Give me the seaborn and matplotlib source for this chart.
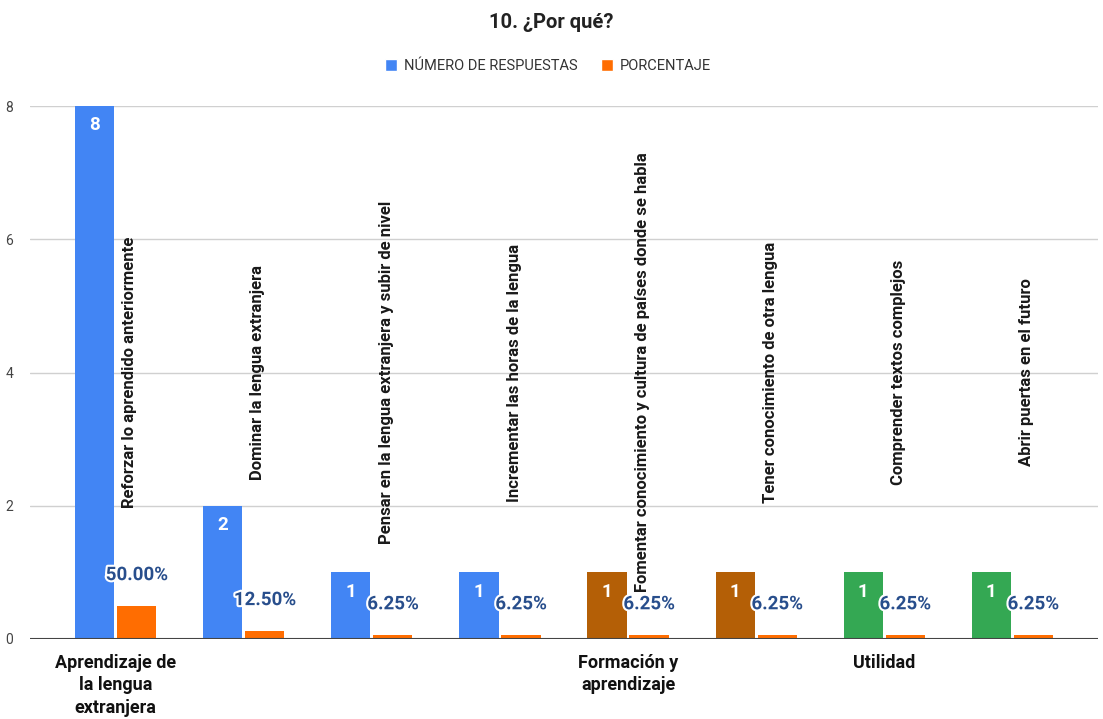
import matplotlib
matplotlib.use("Agg")
import matplotlib.pyplot as plt
import matplotlib.patheffects as pe
from matplotlib.patches import Patch
import seaborn as sns
import pandas as pd

# ---- data ----
reasons = [
    "Reforzar lo aprendido anteriormente",
    "Dominar la lengua extranjera",
    "Pensar en la lengua extranjera y subir de nivel",
    "Incrementar las horas de la lengua",
    "Fomentar conocimiento y cultura de países donde se habla",
    "Tener conocimiento de otra lengua",
    "Comprender textos complejos",
    "Abrir puertas en el futuro",
]
group_labels = ["Aprendizaje de\nla lengua\nextranjera", "", "", "",
                "Formación y\naprendizaje", "", "Utilidad", ""]
responses = [8, 2, 1, 1, 1, 1, 1, 1]
percentages = [0.50, 0.125, 0.0625, 0.0625, 0.0625, 0.0625, 0.0625, 0.0625]
series_names = ["NÚMERO DE RESPUESTAS", "PORCENTAJE"]
y_ticks = [0, 2, 4, 6, 8]

BLUE, ORANGE, BROWN, GREEN = "#4285F4", "#FF6D01", "#B45F06", "#34A853"
bar_colors = [BLUE, BLUE, BLUE, BLUE, BROWN, BROWN, GREEN, GREEN]
LABEL_BLUE = "#284E8C"

sns.set_theme(style="white")
plt.rcParams["font.family"] = ["Roboto", "DejaVu Sans"]

n = len(reasons)
df = pd.DataFrame({
    "idx": list(range(n)) * 2,
    "serie": [series_names[0]] * n + [series_names[1]] * n,
    "valor": responses + percentages,
})

fig = plt.figure(figsize=(11.03, 7.19), dpi=100)
ax = fig.add_axes([30 / 1103, 80 / 719, 1068 / 1103, 533 / 719])

sns.barplot(data=df, x="idx", y="valor", hue="serie", order=list(range(n)),
            hue_order=series_names, palette=[BLUE, ORANGE], width=0.656,
            gap=0.07, ax=ax, legend=False, saturation=1, native_scale=False)

blue_bars = ax.containers[0]
orange_bars = ax.containers[1]
for bar, c in zip(blue_bars, bar_colors):
    bar.set_facecolor(c)
    bar.set_edgecolor("none")
for bar in orange_bars:
    bar.set_edgecolor("none")

# number labels inside blue bars
for bar, v in zip(blue_bars, responses):
    ax.annotate(str(v), (bar.get_x() + bar.get_width() / 2, bar.get_height()),
                xytext=(0, -14), textcoords="offset points", ha="center",
                va="center", color="white", fontsize=13.5, fontweight="bold")

# percentage labels above orange bars
for bar, p in zip(orange_bars, percentages):
    ax.annotate(f"{p * 100:.2f}%", (bar.get_x() + bar.get_width() / 2, bar.get_height()),
                xytext=(0, 22), textcoords="offset points", ha="center",
                va="center", color=LABEL_BLUE, fontsize=13.5, fontweight="bold",
                path_effects=[pe.withStroke(linewidth=3, foreground="white")])

# vertical reason labels
for i, r in enumerate(reasons):
    ax.text(i + 0.11, 4, r, rotation=90, ha="center", va="center",
            fontsize=12, fontweight="bold", color="#1a1a1a")

ax.set_xlim(-0.67, 7.67)
ax.set_ylim(0, 8)
ax.set_yticks(y_ticks)
ax.set_yticklabels([str(t) for t in y_ticks], fontsize=10, color="#444444")
ax.set_xticks(range(n))
ax.set_xticklabels(group_labels, fontsize=13, fontweight="bold", color="#111111",
                   linespacing=1.3)
ax.tick_params(axis="both", length=0)
ax.tick_params(axis="y", pad=12)
ax.tick_params(axis="x", pad=11)
ax.set_xlabel("")
ax.set_ylabel("")
ax.grid(axis="y", color="#d0d0d0", linewidth=1)
ax.set_axisbelow(True)
for s in ["top", "right", "left", "bottom"]:
    ax.spines[s].set_visible(False)
ax.axhline(0, color="#444444", linewidth=1.5, zorder=3)

fig.text(0.5, 1 - 22 / 719, "10. ¿Por qué?", ha="center", va="center",
         fontsize=14.5, fontweight="bold", color="#222222")

handles = [Patch(facecolor=BLUE, label=series_names[0]),
           Patch(facecolor=ORANGE, label=series_names[1])]
fig.legend(handles=handles, loc="center", bbox_to_anchor=(0.497, 1 - 66 / 719),
           ncol=2, frameon=False, fontsize=10.5, handlelength=0.8, handleheight=0.8,
           columnspacing=1.6, handletextpad=0.5, labelcolor="#333333")

fig.savefig("out.png", dpi=100)
